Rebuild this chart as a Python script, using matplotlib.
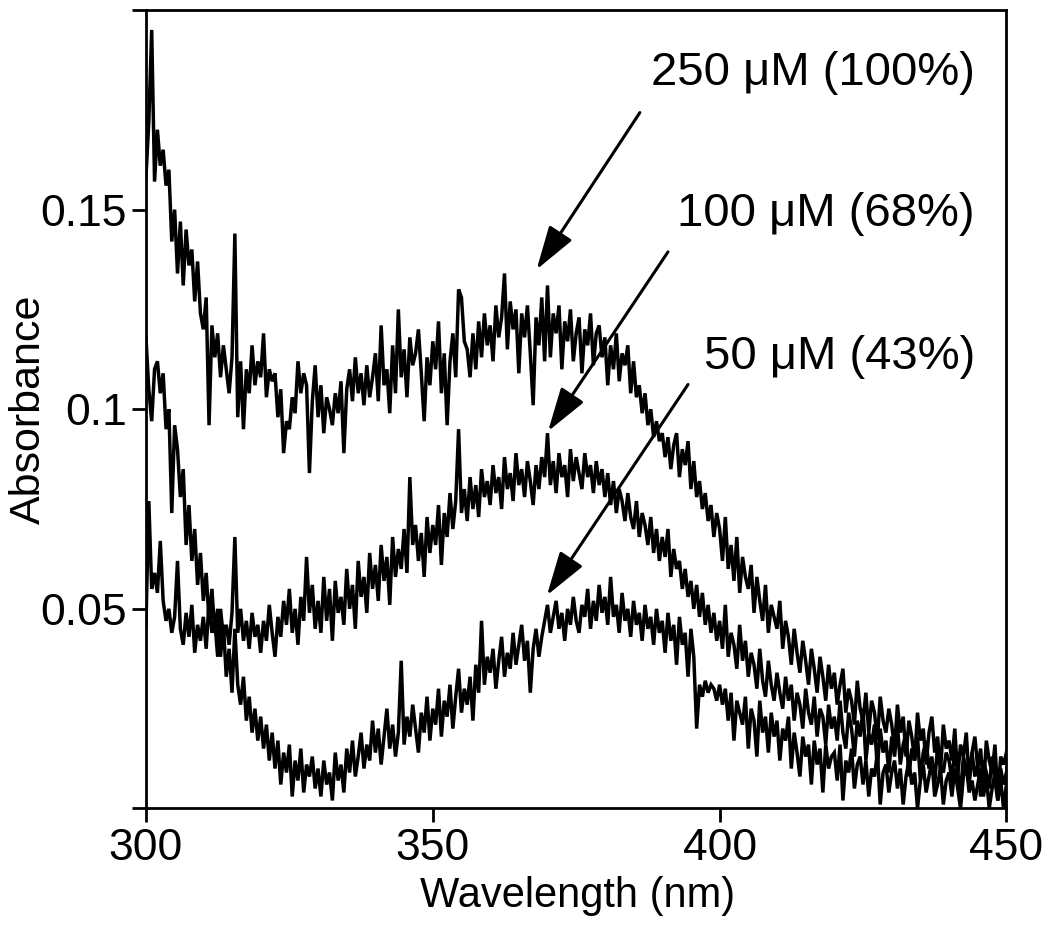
import numpy as np
import matplotlib
matplotlib.use("Agg")
import matplotlib.pyplot as plt

plt.rcParams['font.family'] = ['Liberation Sans', 'DejaVu Sans']

# wavelength grid, 0.5 nm steps (300 .. 450 nm)
wavelength = np.linspace(300, 450, 301)

# absorbance values in milli-absorbance units (0.5 nm steps)
abs_250uM = [
    158, 172, 195, 157, 170, 161, 165, 156, 160, 142, 150, 134, 147, 131, 145, 136, 140, 127, 137, 124,
    120, 128, 96, 121, 113, 119, 108, 116, 110, 104, 113, 144, 98, 112, 95, 110, 104, 116, 106, 112,
    108, 119, 103, 110, 107, 109, 98, 105, 89, 97, 95, 103, 99, 112, 104, 109, 106, 84, 102, 111,
    98, 106, 94, 103, 100, 96, 104, 99, 107, 89, 105, 110, 102, 113, 104, 109, 101, 111, 103, 108,
    114, 102, 121, 106, 110, 99, 116, 104, 125, 108, 115, 103, 118, 111, 114, 120, 109, 97, 113, 106,
    117, 110, 122, 104, 114, 96, 112, 119, 108, 130, 128, 117, 115, 108, 119, 110, 122, 113, 124, 116,
    121, 112, 126, 118, 123, 134, 115, 127, 120, 125, 109, 124, 118, 126, 114, 101, 123, 116, 128, 112,
    131, 113, 124, 119, 126, 110, 122, 117, 125, 112, 119, 123, 109, 120, 116, 124, 111, 119, 121, 113,
    118, 106, 116, 110, 119, 107, 114, 111, 116, 104, 112, 103, 106, 99, 104, 96, 100, 93, 97, 92,
    94, 88, 93, 85, 91, 94, 83, 90, 86, 92, 80, 87, 78, 82, 75, 79, 72, 76, 68, 74,
    70, 62, 73, 60, 66, 57, 68, 54, 63, 58, 55, 61, 49, 58, 52, 47, 56, 44, 51, 48,
    45, 52, 40, 47, 43, 36, 45, 39, 34, 42, 37, 31, 40, 35, 29, 38, 33, 27, 36, 30,
    34, 26, 31, 35, 24, 30, 27, 21, 32, 25, 22, 29, 19, 27, 24, 17, 28, 22, 19, 25,
    21, 15, 26, 19, 23, 13, 22, 18, 12, 24, 17, 20, 11, 19, 23, 14, 18, 9, 21, 15,
    17, 12, 20, 8, 16, 13, 19, 7, 14, 18, 10, 15, 5, 17, 12, 9, 16, 3, 13, 11, 14,
]
abs_100uM = [
    46, 77, 55, 59, 54, 67, 52, 47, 50, 44, 48, 62, 45, 41, 49, 43, 51, 39, 46, 42,
    48, 40, 52, 44, 47, 38, 50, 43, 46, 41, 49, 68, 44, 50, 42, 47, 40, 49, 43, 46,
    39, 47, 42, 51, 44, 38, 48, 43, 52, 46, 55, 44, 50, 41, 53, 47, 63, 49, 56, 45,
    52, 44, 58, 47, 55, 42, 57, 49, 53, 46, 60, 50, 56, 45, 62, 53, 58, 49, 64, 55,
    61, 52, 66, 57, 63, 51, 68, 58, 65, 60, 70, 59, 83, 66, 71, 62, 69, 58, 73, 64,
    71, 66, 76, 61, 74, 68, 79, 70, 77, 95, 74, 80, 72, 83, 75, 81, 73, 85, 78, 82,
    76, 86, 79, 83, 75, 88, 80, 84, 77, 89, 81, 85, 78, 87, 82, 76, 86, 80, 88, 83,
    94, 81, 87, 79, 89, 83, 86, 78, 90, 82, 88, 84, 80, 89, 83, 86, 79, 87, 81, 85,
    78, 84, 76, 82, 74, 80, 77, 72, 79, 73, 70, 77, 68, 74, 71, 66, 73, 64, 70, 62,
    68, 63, 70, 58, 65, 60, 62, 55, 60, 53, 57, 50, 56, 48, 54, 46, 51, 44, 49, 42,
    47, 40, 51, 38, 44, 41, 35, 46, 37, 42, 33, 39, 36, 30, 40, 32, 28, 37, 31, 27,
    34, 29, 25, 33, 27, 31, 22, 29, 26, 20, 30, 24, 21, 28, 18, 25, 23, 16, 26, 20,
    23, 17, 27, 19, 15, 24, 20, 13, 22, 18, 25, 12, 19, 16, 21, 10, 20, 14, 17, 9,
    18, 13, 21, 11, 16, 19, 8, 15, 12, 18, 7, 14, 17, 10, 13, 6, 16, 11, 9, 14,
    12, 7, 15, 9, 4, 13, 10, 6, 14, 8, 11, 3, 12, 9, 5, 13, 7, 2, 10, 6, 9,
]
abs_50uM = [
    118, 105, 97, 110, 112, 104, 109, 95, 100, 74, 96, 90, 78, 85, 66, 76, 62, 70, 56, 64,
    52, 59, 47, 55, 44, 50, 38, 46, 33, 40, 29, 45, 31, 26, 33, 22, 28, 19, 25, 17,
    23, 15, 21, 12, 19, 10, 17, 6, 14, 9, 16, 3, 12, 7, 15, 4, 11, 8, 13, 5,
    10, 3, 12, 6, 9, 2, 14, 7, 11, 4, 15, 9, 17, 8, 13, 19, 10, 16, 12, 22,
    14, 20, 11, 18, 25, 15, 21, 13, 19, 37, 16, 23, 18, 26, 20, 14, 24, 19, 28, 17,
    25, 21, 30, 18, 27, 23, 31, 20, 28, 35, 24, 30, 26, 33, 22, 36, 29, 47, 31, 38,
    34, 40, 30, 37, 43, 33, 39, 35, 44, 36, 41, 46, 37, 42, 29, 40, 45, 38, 43, 47,
    51, 44, 48, 52, 45, 49, 42, 50, 46, 53, 47, 44, 51, 48, 55, 45, 52, 47, 56, 49,
    53, 46, 58, 48, 51, 44, 54, 47, 50, 43, 52, 46, 49, 42, 51, 45, 48, 41, 50, 44,
    47, 39, 49, 42, 46, 36, 48, 41, 44, 33, 45, 38, 20, 31, 28, 32, 29, 31, 30, 27,
    31, 26, 30, 22, 29, 17, 27, 24, 21, 28, 15, 25, 22, 13, 27, 19, 23, 14, 24, 18,
    22, 12, 20, 17, 23, 10, 19, 14, 8, 18, 13, 16, 6, 17, 11, 15, 4, 16, 10, 13,
    14, 7, 16, 2, 12, 9, 15, 5, 11, 13, 6, 12, 3, 10, 8, 14, 1, 9, 11, 4,
    9, 12, 5, 10, 1, 8, 12, 6, 9, 0, 7, 11, 4, 8, 12, 3, 6, 10, 1, 7,
    9, 3, 10, 5, 0, 8, 11, 4, 7, 2, 6, 10, 3, 8, 0, 5, 9, 2, 7, 0, 6,
]

labels = ['250 \u03bcM (100%)', '100 \u03bcM (68%)', '50 \u03bcM (43%)']

fig = plt.figure(figsize=(10.5, 9.39), dpi=100)
ax = fig.add_axes([0.139, 0.139, 0.8195, 0.8504])

for series in (abs_250uM, abs_100uM, abs_50uM):
    ax.plot(wavelength, np.array(series) / 1000.0, color='black', lw=2.5,
            solid_joinstyle='miter')

ax.set_xlim(300, 450)
ax.set_ylim(0, 0.2)
ax.set_xticks([300, 350, 400, 450])
ax.set_yticks([0, 0.05, 0.1, 0.15, 0.2])
ax.set_yticklabels(['', '0.05', '0.1', '0.15', ''])
ax.tick_params(direction='out', length=10, width=2.0, labelsize=32, pad=4,
               top=False, right=False)
for sp in ax.spines.values():
    sp.set_linewidth(2.0)

ax.set_xlabel('Wavelength (nm)', fontsize=30, va='center')
ax.xaxis.set_label_coords(0.502, -0.109)
ax.set_ylabel('Absorbance', fontsize=31, va='center')
ax.yaxis.set_label_coords(-0.136, 0.5)

# labels and arrows (text right edge, arrow tail -> head)
text_y = [0.1843, 0.1489, 0.1132]
tails = [(386.1, 0.1743), (391.0, 0.1394), (394.5, 0.1062)]
heads = [(368.1, 0.1350), (370.1, 0.0945), (369.9, 0.0534)]
for lab, ty, tail, head in zip(labels, text_y, tails, heads):
    ax.text(444.5, ty, lab, fontsize=34, ha='right', va='center')
    ax.annotate('', xy=head, xytext=tail,
                arrowprops=dict(arrowstyle='-|>,head_length=0.9,head_width=0.28',
                                mutation_scale=30, lw=2.2, color='black',
                                shrinkA=0, shrinkB=0))

fig.savefig('out.png', dpi=100)
